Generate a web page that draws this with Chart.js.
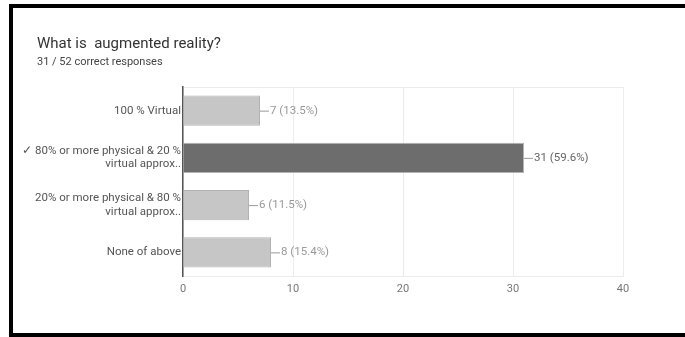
<!DOCTYPE html>
<html>
<head>
<meta charset="utf-8">
<script src="https://cdn.jsdelivr.net/npm/chart.js@4.4.0/dist/chart.umd.min.js"></script>
<style>
  html, body { margin: 0; padding: 0; background: #fff; }
  #wrap { position: relative; width: 685px; height: 337px; overflow: hidden; font-family: Roboto, 'Liberation Sans', Arial, sans-serif; }
  #frame {
    position: absolute; left: 9px; top: 4px; width: 700px; height: 325px;
    border: 4px solid #000; border-right: none; box-sizing: content-box;
  }
  #chart { position: absolute; left: 0; top: 0; }
  .title { position: absolute; left: 37px; top: 34px; font-size: 15px; line-height: 18px; color: #333; white-space: pre; }
  .subtitle { position: absolute; left: 37px; top: 55px; font-size: 11px; line-height: 13px; color: #444; }
</style>
</head>
<body>
<div id="wrap">
  <div id="frame"></div>
  <canvas id="chart" width="685" height="337"></canvas>
  <div class="title">What is  augmented reality?</div>
  <div class="subtitle">31 / 52 correct responses</div>
</div>
<script>
// answer options, counts and share of the 52 responses
const answers = [
  "100 % Virtual",
  ["\u2713 80% or more physical & 20 %", "virtual approx.."],
  ["20% or more physical & 80 %", "virtual approx.."],
  "None of above"
];
const counts = [7, 31, 6, 8];
const percents = ["13.5", "59.6", "11.5", "15.4"];
const correctIndex = 1;
const xTicks = [0, 10, 20, 30, 40];

const FONT = "Roboto, 'Liberation Sans', Arial, sans-serif";

// draws "—7 (13.5%)" next to each bar
const valueLabels = {
  id: "valueLabels",
  afterDatasetsDraw(chart) {
    const ctx = chart.ctx;
    const meta = chart.getDatasetMeta(0);
    ctx.save();
    ctx.font = "11.5px " + FONT;
    ctx.textBaseline = "middle";
    meta.data.forEach((bar, i) => {
      const x = bar.x, y = bar.y;
      ctx.strokeStyle = "#9a9a9a";
      ctx.lineWidth = 1;
      ctx.beginPath();
      ctx.moveTo(x, y + 0.5);
      ctx.lineTo(x + 9, y + 0.5);
      ctx.stroke();
      ctx.fillStyle = i === correctIndex ? "#666" : "#999";
      ctx.fillText(counts[i] + " (" + percents[i] + "%)", x + 10, y);
    });
    ctx.restore();
  }
};

new Chart(document.getElementById("chart"), {
  type: "bar",
  data: {
    labels: answers,
    datasets: [{
      data: counts,
      backgroundColor: counts.map((c, i) => i === correctIndex ? "#6d6d6d" : "#c6c6c6"),
      borderColor: counts.map((c, i) => i === correctIndex ? "#b4b4b4" : "#b2b2b2"),
      borderWidth: 1,
      borderSkipped: "left",
      categoryPercentage: 1,
      barPercentage: 0.64
    }]
  },
  plugins: [valueLabels],
  options: {
    indexAxis: "y",
    responsive: false,
    animation: false,
    layout: { padding: { left: 17, right: 62, top: 87, bottom: 31 } },
    plugins: {
      legend: { display: false },
      tooltip: { enabled: false }
    },
    scales: {
      x: {
        min: 0,
        max: 40,
        afterBuildTicks(scale) { scale.ticks = xTicks.map(v => ({ value: v })); },
        afterFit(scale) { scale.height = 30; },
        grid: { color: "#ececec", drawTicks: false },
        border: { display: true, color: "#ececec" },
        ticks: { color: "#777", padding: 7, font: { family: FONT, size: 11 } }
      },
      y: {
        afterFit(scale) { scale.width = 166; },
        grid: {
          drawTicks: false,
          color: (c) => c.index === 0 ? "#ececec" : "transparent"
        },
        border: { display: true, color: "#555", width: 1.5 },
        ticks: { color: "#555", padding: 2, font: { family: FONT, size: 11.5, lineHeight: 1.15 } }
      }
    }
  }
});
</script>
</body>
</html>
